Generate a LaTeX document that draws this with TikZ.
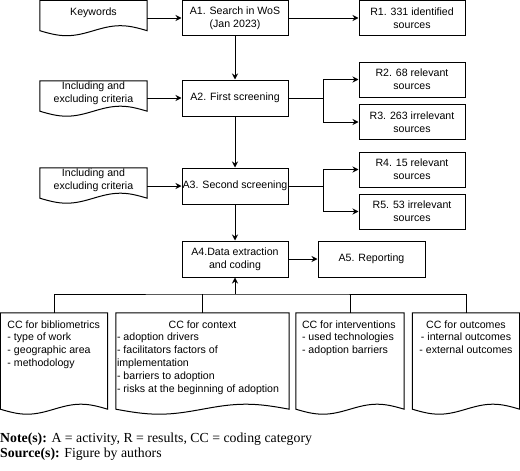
\documentclass[tikz,border=0pt]{standalone}
\usepackage{fontspec}
\setmainfont{Liberation Sans}
\newfontfamily\notefont{Liberation Serif}
\usetikzlibrary{arrows.meta,calc}
\newcommand\ccfirst{\rule{0pt}{15pt}}

\begin{document}
\begin{tikzpicture}[%
  x=1pt, y=-1pt,
  font=\fontsize{10.6}{12.8}\selectfont,
  every node/.style={inner sep=0pt},
  link/.style={line width=1pt},
  flow/.style={link, -{Stealth[length=6pt,width=6pt,inset=2pt]}},
  actbox/.style={draw, line width=1pt, minimum width=106pt, minimum height=35pt, align=center},
  docbody/.style={minimum width=107pt, minimum height=25pt, align=center},
  ccdoc/.style={minimum height=96pt},
  notetext/.style={anchor=base west, font=\notefont\fontsize{13.8}{16}\selectfont}]
\useasboundingbox (0,0) rectangle (520,471);

% activities and results
\node[actbox] (a1) at (235,18) {A1. Search in WoS\\(Jan 2023)};
\node[actbox] (r1) at (412,18) {R1. 331 identified\\sources};
\node[actbox, minimum height=36pt] (a2) at (235,98) {A2. First screening};
\node[actbox] (r2) at (412,79.5) {R2. 68 relevant\\sources};
\node[actbox] (r3) at (412,122) {R3. 263 irrelevant\\sources};
\node[actbox, minimum height=36pt] (a3) at (235,186) {A3. Second screening};
\node[actbox] (r4) at (412,169.5) {R4. 15 relevant\\sources};
\node[actbox] (r5) at (412,211.5) {R5. 53 irrelevant\\sources};
\node[actbox, minimum height=36pt] (a4) at (235,259) {A4.Data extraction\\and coding};
\node[actbox, minimum height=36pt, minimum width=107pt] (a5) at (371.5,259) {A5. Reporting};

% inputs
\node[docbody] (kw) at (93.5,13) {Keywords};
\node[docbody] (crit1) at (93.5,93.5) {Including and\\excluding criteria};
\node[docbody] (crit2) at (93.5,180.5) {Including and\\excluding criteria};

% coding categories
\node[ccdoc, minimum width=107pt] (ccbib) at (54,361) {\parbox[c][96pt][t]{93pt}{\raggedright
  \ccfirst CC for bibliometrics\\- type of work\\- geographic area\\- methodology}};
\node[ccdoc, minimum width=173pt] (ccctx) at (202.5,361) {\parbox[c][96pt][t]{171pt}{\raggedright
  \ccfirst\makebox[\linewidth]{CC for context}\\- adoption drivers\\- facilitators factors of\\implementation\\- barriers to adoption\\- risks at the beginning of adoption}};
\node[ccdoc, minimum width=108pt] (ccint) at (350,361) {\parbox[c][96pt][t]{96pt}{\raggedright
  \ccfirst CC for interventions\\- used technologies\\- adoption barriers}};
\node[ccdoc, minimum width=107pt] (ccout) at (466,361) {\parbox[c][96pt][t]{100pt}{\centering
  \ccfirst CC for outcomes\\- internal outcomes\\- external outcomes}};

% document outlines, wavy bottom \off below the body
\foreach \d/\off in {kw/5,crit1/5,crit2/5,ccbib/0,ccctx/0,ccint/0,ccout/0}
  \draw[link] ($(\d.south east)+(0,\off)$) -- (\d.north east) -- (\d.north west)
    -- ($(\d.south west)+(0,\off)$)
    sin ($(\d.south west)!0.25!(\d.south east)+(0,\off+5)$)
    cos ($(\d.south west)!0.5!(\d.south east)+(0,\off)$)
    sin ($(\d.south west)!0.75!(\d.south east)+(0,\off-5)$)
    cos ($(\d.south east)+(0,\off)$) -- cycle;

% connectors
\coordinate (b2) at (323,98);
\coordinate (b3) at (323,186);
\coordinate (bus) at (235,294);
\draw[flow] (kw.east |- a1.west) -- (a1.west);
\draw[flow] (crit1.east |- a2.west) -- (a2.west);
\draw[flow] (crit2.east |- a3.west) -- (a3.west);
\draw[flow] (a1) -- (r1);
\draw[flow] (a1) -- (a2);
\draw[flow] (a2) -- (a3);
\draw[flow] (a3) -- (a4);
\draw[link] (a2.east) -- (b2);
\draw[flow] (b2) |- (r2.west);
\draw[flow] (b2) |- (r3.west);
\draw[link] (a3.east) -- (b3);
\draw[flow] (b3) |- (r4.west);
\draw[flow] (b3) |- (r5.west);
\draw[flow] (a4) -- (a5);
\draw[link] (ccbib.north) |- (bus) -| (ccout.north);
\draw[link] (ccctx.north) -- (ccctx.north |- bus);
\draw[link] (ccint.north) -- (ccint.north |- bus);
\draw[flow] (bus) -- (a4.south);

% notes
\node[notetext] (note) at (0,442) {\textbf{Note(s):} A = activity, R = results, CC = coding category};
\node[notetext] (source) at (0,457) {\textbf{Source(s):} Figure by authors};
\end{tikzpicture}
\end{document}
